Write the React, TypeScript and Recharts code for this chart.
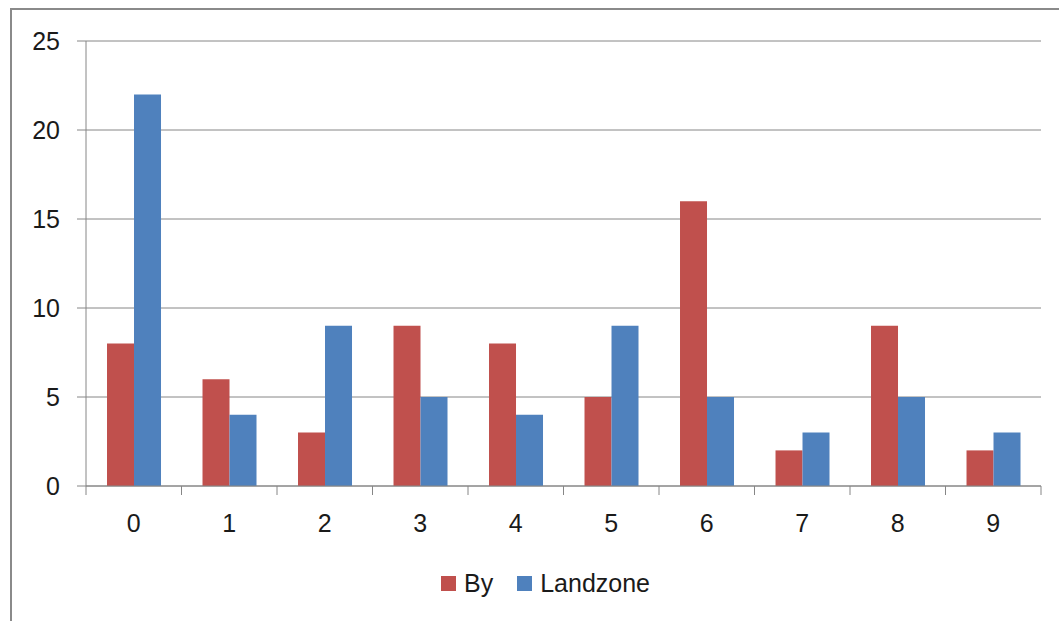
import React from 'react'
import { BarChart, Bar, XAxis, YAxis, CartesianGrid, Legend } from 'recharts'

const categories = ['0', '1', '2', '3', '4', '5', '6', '7', '8', '9']
const byValues = [8, 6, 3, 9, 8, 5, 16, 2, 9, 2]
const landzoneValues = [22, 4, 9, 5, 4, 9, 5, 3, 5, 3]
const yTicks = [0, 5, 10, 15, 20, 25]

const RED = '#C0504D'
const BLUE = '#4F81BD'
const AXIS = '#868686'
const FONT = '"Liberation Sans", Arial, sans-serif'

const data = categories.map((c, i) => ({ cat: c, by: byValues[i], landzone: landzoneValues[i] }))

// category labels with tick marks on the band edges, like Excel
const XTick = ({ x, y, payload, index }: any) => {
  const half = payload.offset ?? 0
  return (
    <g>
      <line x1={x - half} x2={x - half} y1={y - 11} y2={y - 2} stroke={AXIS} />
      {index === categories.length - 1 && (
        <line x1={x + half} x2={x + half} y1={y - 11} y2={y - 2} stroke={AXIS} />
      )}
      <text x={x} y={y + 35} textAnchor="middle" fill="#1a1a1a" fontSize={25} fontFamily={FONT}>
        {payload.value}
      </text>
    </g>
  )
}

const LegendBox = () => (
  <div style={{ display: 'flex', justifyContent: 'center', alignItems: 'center', height: 30, paddingLeft: 50, boxSizing: 'border-box', fontFamily: FONT, fontSize: 25, color: '#1a1a1a' }}>
    <span style={{ width: 15, height: 15, background: RED, display: 'inline-block', marginRight: 8 }} />
    <span style={{ marginRight: 24 }}>By</span>
    <span style={{ width: 15, height: 15, background: BLUE, display: 'inline-block', marginRight: 8 }} />
    <span>Landzone</span>
  </div>
)

export default function App() {
  return (
    <div style={{ position: 'absolute', left: 0, top: 0, width: 1059, height: 621, overflow: 'hidden', background: '#fff' }}>
      <div style={{ position: 'absolute', left: 10, top: 8, width: 1070, height: 640, border: '2px solid #8a8a8a', boxSizing: 'border-box' }} />
      <div style={{ position: 'absolute', left: 0, top: 0 }}>
        <BarChart width={1059} height={621} data={data} margin={{ top: 41, right: 18, left: 0, bottom: 23 }}
          barCategoryGap="22%" barGap={0}>
          <CartesianGrid vertical={false} stroke={AXIS} />
          <XAxis dataKey="cat" height={82} stroke={AXIS} tickLine={false} tickSize={9} tickMargin={2} tick={<XTick />} />
          <YAxis width={86} domain={[0, 25]} ticks={yTicks} stroke={AXIS} tickSize={9} tickMargin={17}
            tick={{ fill: '#1a1a1a', fontSize: 25, fontFamily: FONT }} />
          <Legend verticalAlign="bottom" height={30} content={<LegendBox />} />
          <Bar dataKey="by" name="By" fill={RED} isAnimationActive={false} />
          <Bar dataKey="landzone" name="Landzone" fill={BLUE} isAnimationActive={false} />
        </BarChart>
      </div>
    </div>
  )
}
